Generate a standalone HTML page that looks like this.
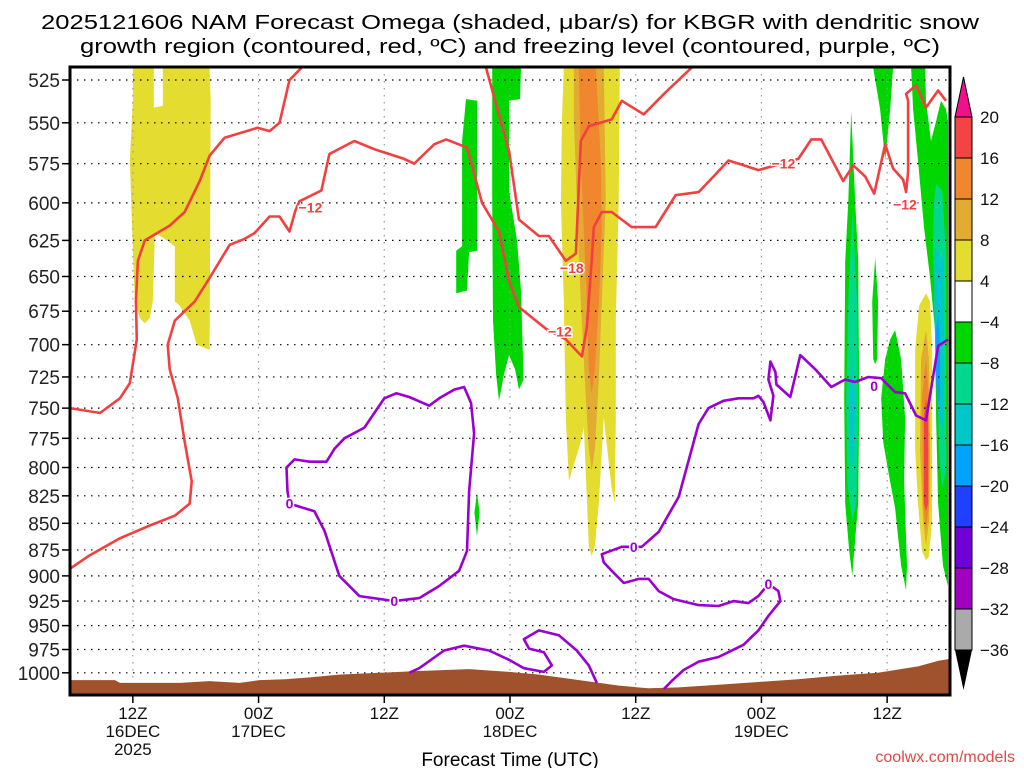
<!DOCTYPE html>
<html><head><meta charset="utf-8">
<style>
html,body{margin:0;padding:0;background:#fff;}
svg text{font-family:"Liberation Sans",sans-serif;}
</style></head>
<body>
<svg id="c" width="1024" height="768" viewBox="0 0 1024 768" xmlns="http://www.w3.org/2000/svg">
<text x="510" y="29" font-size="20" text-anchor="middle" textLength="938" lengthAdjust="spacingAndGlyphs">2025121606 NAM Forecast Omega (shaded, μbar/s) for KBGR with dendritic snow</text>
<text x="510" y="53" font-size="20" text-anchor="middle" textLength="860" lengthAdjust="spacingAndGlyphs">growth region (contoured, red, ºC) and freezing level (contoured, purple, ºC)</text>
<g id="plot"></g>
<g id="axes"></g>
<g id="cbar"></g>
<text x="510" y="766" font-size="19" text-anchor="middle">Forecast Time (UTC)</text>
<text x="1015" y="762" font-size="16" fill="#e04848" text-anchor="end" font-family="Liberation Mono, monospace">coolwx.com/models</text>
</svg>
<script>
// ---- data (hours after 06Z 16DEC, pressure hPa) ----
const pressureTicks=[525,550,575,600,625,650,675,700,725,750,775,800,825,850,875,900,925,950,975,1000];
const timeTickHours=[6,18,30,42,54,66,78];
const timeTickLine1=["12Z","00Z","12Z","00Z","12Z","00Z","12Z"];
const timeTickLine2=["16DEC","17DEC","","18DEC","","19DEC",""];
const timeTickLine3=["2025","","","","","",""];
const cbarLevels=[20,16,12,8,4,-4,-8,-12,-16,-20,-24,-28,-32,-36];
const cbarColors=["#f24444","#f0862e","#e2ab32","#e5dc30","#ffffff","#00d700","#00d88e","#00c8c8","#00a2ff","#2040ff","#7000d8","#a000c0","#aaaaaa"];
const terrainHours=[0,4.3,4.76,10.5,13.3,16.2,18.1,20.5,22.9,25.7,29.5,33.3,38.1,41.9,44.8,48.6,52.4,55.2,58.1,61.9,65.7,69.5,73.3,77.1,81,82.9,84];
const terrainPres=[1008,1008,1011,1011,1009,1011,1008,1007,1005,1002,1000,998,996,999,1002,1008,1014,1017,1016,1013,1010,1007,1003,1000,993,987,985];
const shadeYellowLeft=[[6,518],[8,518],[8,541],[8.86,540],[8.86,518],[13.33,518],[13.43,537],[13.33,704],[12.1,700],[11.43,682],[10.48,671],[10,668],[10,629],[9.05,624],[8.1,620],[7.9,668],[7.62,680],[7.14,684],[6.67,680],[6.19,668],[6,632],[5.71,573],[6,537]];
const shadeGreenMid1=[[37.8,536],[38.86,537],[38.86,632],[38.1,633],[37.9,660],[36.86,662],[36.86,632],[37.43,629],[37.43,561]];
const shadeGreenMid2=[[40.3,518],[43.05,518],[42.95,536],[41.9,537],[41.9,592],[42.67,625],[43.05,660],[43.3,727],[42.86,735],[42.48,719],[41.9,708],[41.43,723],[40.95,744],[40.67,723],[40.38,682],[40.3,599]];
const shadeGreenBlob=[[38.85,822],[39.1,840],[38.85,862],[38.6,840]];
const shadeYellowMid=[[47.14,518],[52.48,518],[52.38,599],[52.1,682],[52.1,758],[52,832],[51.7,818],[50.95,758],[50.48,832],[50.1,871],[49.8,881],[49.52,871],[49.05,766],[48.57,784],[47.9,803],[47.62,812],[47.33,758],[47.14,668],[46.86,599],[46.95,549]];
const shadeGoldMid=[[48.1,518],[50.95,518],[51.14,599],[50.76,668],[50.48,727],[50.1,784],[49.8,803],[49.52,784],[49.14,727],[48.76,668],[48.38,599],[48.1,549]];
const shadeOrangeMid=[[48.57,518],[50.19,518],[50.67,573],[50.76,619],[50.48,668],[50.1,719],[49.8,738],[49.52,719],[49.33,668],[49.05,619],[48.76,573]];
const shadeGreenTopR=[[76.67,518],[78.57,518],[78.29,542],[77.81,573],[77.33,542]];
const shadeGreenThin=[[74.57,543],[74.95,599],[75.24,639],[75.33,742],[75.24,832],[74.86,876],[74.67,900],[74.38,876],[74,832],[73.9,742],[74,639],[74.29,599]];
const shadeTealThin=[[74.67,606],[75.14,668],[75.24,758],[75.05,832],[74.67,848],[74.19,812],[74.1,742],[74.29,668]];
const shadeCyanThin=[[74.67,711],[74.95,742],[74.86,784],[74.57,803],[74.38,766],[74.38,742]];
const shadeGreenSmall=[[76.86,637],[77.14,668],[77.05,711],[76.86,715],[76.67,711],[76.57,668]];
const shadeGreenBlobR=[[78.76,689],[79.33,711],[79.71,758],[79.62,812],[79.9,890],[79.81,914],[79.33,890],[78.76,836],[78.1,803],[77.62,778],[77.43,742],[77.81,711],[78.29,696]];
const shadeGreenRight=[[80.29,518],[81.62,518],[81.71,537],[82.19,561],[82.67,549],[83.14,537],[83.62,542],[83.81,549],[83.81,910],[83.33,890],[82.86,832],[82.67,758],[82.57,689],[82.1,651],[81.52,616],[80.95,573],[80.48,542]];
const shadeTealRight=[[82.67,588],[83.24,592],[83.62,632],[83.62,803],[83.24,818],[82.95,784],[82.76,704],[82.38,632],[82.48,599]];
const shadeCyanRight=[[82.57,630],[83.43,639],[83.43,766],[82.95,763],[82.67,727],[82.48,668]];
const shadeBlueRight=[[82.86,677],[83.05,696],[83.05,742],[82.86,745],[82.67,727],[82.67,689]];
const shadeYellowRight=[[81.71,662],[82.1,668],[82.29,704],[82.29,784],[82.29,848],[82,881],[81.71,885],[81.33,876],[80.95,832],[80.67,784],[80.67,704],[81.05,671]];
const shadeGoldRight=[[81.71,689],[82,711],[82.1,784],[82,848],[81.71,871],[81.43,848],[81.14,784],[81.24,711]];
const shadeOrangeRight=[[81.71,711],[82,742],[82,832],[81.71,857],[81.43,832],[81.33,742]];
const shadeRedRight=[[81.71,742],[81.9,758],[81.9,832],[81.71,839],[81.52,832],[81.52,758]];
const redLineA=[[0,750],[2.86,754],[4.76,742],[5.71,730],[6.38,696],[6.29,668],[6.48,639],[7.14,625],[9.52,615],[10.95,606],[12.38,586],[13.33,570],[14.76,559],[17.9,553],[19.05,555],[20,550],[20.95,525],[22.1,518]];
const redLineB=[[0,893],[1.9,880],[4.76,864],[7.62,852],[10,843],[11.43,832],[11.62,812],[10.95,778],[10.29,742],[9.52,719],[9.33,700],[10,682],[11.9,668],[13.33,651],[15.24,628],[16.67,624],[17.62,620],[19.05,609],[20,609],[20.95,619],[21.52,605],[21.9,599],[24,592],[24.76,569],[27.14,561],[29.05,566],[31.9,572],[32.86,575],[33.81,569],[34.76,563],[35.9,560],[37.9,565],[39.33,600],[40.95,619],[41.9,653],[42.86,672],[45.43,688],[47.33,696],[48.86,709],[49.33,687],[49.8,639],[50,616],[50.76,606],[51.71,606],[53.62,616],[55.9,616],[57.81,595],[60,593],[61.43,583],[62.86,573],[64.29,576],[65.71,579],[69.52,572],[70.76,560],[71.71,560],[73.81,586],[74.76,576],[75.9,583],[76.76,594],[77.81,563],[78.57,578],[79.52,585],[79.81,593],[80,580],[80,537],[79.81,533],[80.76,528],[81.71,541],[82.86,531],[83.62,537]];
const redLine18=[[39.71,518],[41.9,567],[42.86,611],[44.76,622],[45.71,622],[47.33,639],[48.29,634],[48.76,561],[49.52,552],[51.71,548],[52.67,537],[54.76,545],[56.86,532],[59.33,518]];
const redLabels=[[22.95,603,"−12"],[46.76,690,"−12"],[47.9,644,"−18"],[68.1,575,"−12"],[79.7,601,"−12"]];
const purpleLoop1=[[20.76,821],[20.95,832],[23.33,839],[24.29,857],[25.71,900],[27.62,920],[30.95,925],[33.33,922],[35.24,910],[37.14,895],[37.9,876],[38.1,821],[38.57,771],[38.29,746],[37.62,733],[36.67,735],[35.24,742],[34.29,748],[32.38,741],[31.14,738],[30,742],[29.05,754],[28.1,766],[26.19,775],[25.24,784],[24.48,795],[22.86,795],[21.43,793],[20.67,800],[20.76,821]];
const purpleLoop2=[[32.38,1000],[33.33,995],[35.71,976],[37.62,971],[40,976],[41.9,986],[43.33,995],[45.24,999],[46,992],[45.24,978],[43.81,974],[43.33,964],[44.76,955],[46.67,960],[48.38,976],[49.52,992],[50.29,1011]];
const purpleLoop3=[[56.67,1018],[57.43,1009],[58.57,997],[60,988],[61.9,983],[64.29,970],[65.71,955],[66.67,940],[67.81,925],[67.62,915],[66.67,908],[65.71,920],[64.76,927],[63.33,925],[61.9,930],[60,929],[57.62,923],[56.19,915],[55.24,903],[54.29,903],[52.86,907],[51.9,897],[50.95,887],[50.76,879],[52.67,872],[54.57,872],[56.19,858],[58.1,826],[60,763],[60.95,750],[62.38,744],[63.81,742],[65.24,742],[65.71,740],[66.19,745],[66.86,760],[67.14,740],[66.67,727],[66.86,713],[67.33,721],[67.43,731],[68.76,741],[69.71,708],[71.14,719],[72.67,733],[74,727],[74.95,729],[76.19,725],[77.43,726],[78.76,737],[79.71,738],[80.76,756],[81.71,760],[82.86,701],[83.81,696]];
const purpleLabels=[[20.95,832,"0"],[30.95,925,"0"],[53.81,872,"0"],[66.67,908,"0"],[76.76,732,"0"]];

// ---- axes functions ----
const X0=70,X1=950,Y0=67,Y1=695,H0=0,H1=84;
function xs(h){return X0+(h-H0)*(X1-X0)/(H1-H0);}
function ys(p){return 80+920*Math.log(p/525);}
const NS="http://www.w3.org/2000/svg";
function mk(tag,attrs,parent){const e=document.createElementNS(NS,tag);for(const k in attrs)e.setAttribute(k,attrs[k]);parent.appendChild(e);return e;}
const plot=document.getElementById('plot'),axes=document.getElementById('axes'),cbar=document.getElementById('cbar');
mk('clipPath',{id:'clip'},plot).appendChild(Object.assign(document.createElementNS(NS,'rect'),{}));
const cr=plot.querySelector('clipPath rect');cr.setAttribute('x',X0);cr.setAttribute('y',Y0);cr.setAttribute('width',X1-X0);cr.setAttribute('height',Y1-Y0);
const g=mk('g',{'clip-path':'url(#clip)'},plot);
function pts(arr){return arr.map(d=>xs(d[0]).toFixed(1)+','+ys(d[1]).toFixed(1)).join(' ');}
function shade(arr,color,name){const e=mk('polygon',{points:pts(arr),fill:color},g);

}
shade(shadeYellowLeft,cbarColors[3],'omega-shade-yellow-left');
shade(shadeGreenMid1,cbarColors[5],'omega-shade-green-mid-1');
shade(shadeGreenMid2,cbarColors[5],'omega-shade-green-mid-2');
shade(shadeGreenBlob,cbarColors[5],'omega-shade-green-blob');
shade(shadeYellowMid,cbarColors[3],'omega-shade-yellow-mid');
shade(shadeGoldMid,cbarColors[2],'omega-shade-gold-mid');
shade(shadeOrangeMid,cbarColors[1],'omega-shade-orange-mid');
shade(shadeGreenTopR,cbarColors[5],'omega-shade-green-top-right');
shade(shadeGreenThin,cbarColors[5],'omega-shade-green-thin');
shade(shadeTealThin,cbarColors[6],'omega-shade-teal-thin');
shade(shadeCyanThin,cbarColors[7],'omega-shade-cyan-thin');
shade(shadeGreenSmall,cbarColors[5],'omega-shade-green-small');
shade(shadeGreenBlobR,cbarColors[5],'omega-shade-green-blob-right');
shade(shadeGreenRight,cbarColors[5],'omega-shade-green-right');
shade(shadeTealRight,cbarColors[6],'omega-shade-teal-right');
shade(shadeCyanRight,cbarColors[7],'omega-shade-cyan-right');
shade(shadeBlueRight,cbarColors[8],'omega-shade-blue-right');
shade(shadeYellowRight,cbarColors[3],'omega-shade-yellow-right');
shade(shadeGoldRight,cbarColors[2],'omega-shade-gold-right');
shade(shadeOrangeRight,cbarColors[1],'omega-shade-orange-right');
shade(shadeRedRight,cbarColors[0],'omega-shade-red-right');
// grid
pressureTicks.forEach(p=>{const l=mk('line',{x1:X0,x2:X1,y1:ys(p),y2:ys(p),stroke:'#000','stroke-width':1.2,'stroke-dasharray':'1.5 5.5'},g);

});
timeTickHours.forEach(h=>{const l=mk('line',{x1:xs(h),x2:xs(h),y1:Y0,y2:Y1,stroke:'#999','stroke-width':1.2,'stroke-dasharray':'1.5 5.5'},g);

});
// terrain
const tp=terrainHours.map((h,i)=>[h,terrainPres[i]]);
const terr=mk('polygon',{points:xs(0)+','+(Y1+5)+' '+pts(tp)+' '+xs(84)+','+(Y1+5),fill:'#a0522d'},g);


function line(arr,color,name){const e=mk('polyline',{points:pts(arr),fill:'none',stroke:color,'stroke-width':2.6,'stroke-linejoin':'round'},g);

}
line(redLineA,'#f24040','dgz-contour-a');
line(redLineB,'#f24040','dgz-contour-b');
line(redLine18,'#f24040','dgz-contour-minus18');
line(purpleLoop1,'#9a00d0','freezing-contour-1');
line(purpleLoop2,'#9a00d0','freezing-contour-2');
line(purpleLoop3,'#9a00d0','freezing-contour-3');
function lab(arr,color,name){arr.forEach(d=>{const t=mk('text',{x:xs(d[0]),y:ys(d[1])+5,'font-size':14,'font-weight':'bold',fill:color,'text-anchor':'middle',stroke:'#fff','stroke-width':3,'paint-order':'stroke'},g);t.textContent=d[2];

});}
lab(redLabels,'#f24040','dgz-contour-label');
lab(purpleLabels,'#9a00d0','freezing-contour-label');
// frame
const fr=mk('rect',{x:X0,y:Y0,width:X1-X0,height:Y1-Y0,fill:'none',stroke:'#000','stroke-width':3},axes);


pressureTicks.forEach(p=>{mk('line',{x1:X0-8,x2:X0,y1:ys(p),y2:ys(p),stroke:'#000','stroke-width':1.5},axes);
const t=mk('text',{x:X0-10,y:ys(p)+7,'font-size':19,'text-anchor':'end',fill:'#222'},axes);t.textContent=p;

});
timeTickHours.forEach((h,i)=>{mk('line',{x1:xs(h),x2:xs(h),y1:Y1,y2:Y1+8,stroke:'#000','stroke-width':1.5},axes);
[timeTickLine1[i],timeTickLine2[i],timeTickLine3[i]].forEach((s,j)=>{if(!s)return;const t=mk('text',{x:xs(h),y:719+j*18,'font-size':17,'text-anchor':'middle',fill:'#111'},axes);t.textContent=s;

});});
// colorbar
const CX=955,CW=17,CT=117,CS=(650-117)/13;
function cy(i){return CT+i*CS;}
cbarColors.forEach((c,i)=>{const r=mk('rect',{x:CX,y:cy(i),width:CW,height:CS,fill:c,stroke:'#000','stroke-width':1},cbar);

});
const up=mk('polygon',{points:`${CX},${CT} ${CX+CW},${CT} ${CX+CW/2},${CT-40}`,fill:'#f0108a',stroke:'#000','stroke-width':1},cbar);


const dn=mk('polygon',{points:`${CX},${cy(13)} ${CX+CW},${cy(13)} ${CX+CW/2},${cy(13)+40}`,fill:'#000'},cbar);


cbarLevels.forEach((v,i)=>{const t=mk('text',{x:980,y:cy(i)+6,'font-size':17,fill:'#111'},cbar);t.textContent=(v<0?'−':'')+Math.abs(v);

});
</script>
</body></html>
